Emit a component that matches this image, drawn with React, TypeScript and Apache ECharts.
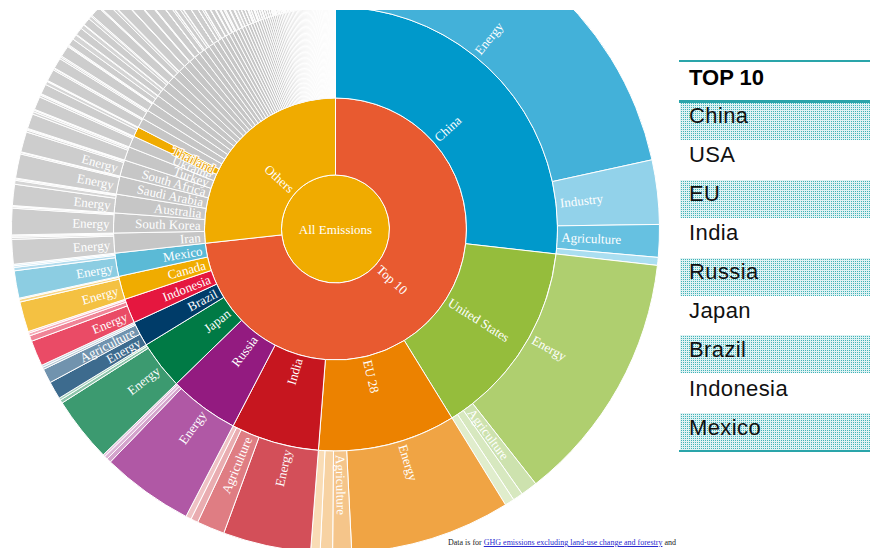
import React, { useEffect, useRef } from "react";
import * as echarts from "echarts";

type Sector = [string, number];

// ---------------- DATA (MtCO2e, clockwise order from 12 o'clock) ----------------
const rootName = "All Emissions";
const groupNames = ["Top 10", "Others"];

const topCountries = ["China", "United States", "EU 28", "India", "Russia", "Japan", "Brazil", "Indonesia", "Canada", "Mexico"];
const china: Sector[] = [["Energy", 9840], ["Industry", 1460], ["Agriculture", 740], ["Waste", 180]];
const unitedStates: Sector[] = [["Energy", 5750], ["Agriculture", 380], ["Industry", 230], ["Waste", 215]];
const eu28: Sector[] = [["Energy", 3645], ["Agriculture", 430], ["Industry", 280], ["Waste", 215]];
const india: Sector[] = [["Energy", 1995], ["Agriculture", 635], ["Industry", 165], ["Waste", 127]];
const russia: Sector[] = [["Energy", 2095], ["Agriculture", 100], ["Industry", 76], ["Waste", 50]];
const japan: Sector[] = [["Energy", 1485], ["Industry", 76], ["Agriculture", 51]];
const brazil: Sector[] = [["Energy", 405], ["Agriculture", 330], ["Industry", 50], ["Waste", 50]];
const indonesia: Sector[] = [["Energy", 585], ["Agriculture", 127], ["Waste", 64], ["Industry", 38]];
const canada: Sector[] = [["Energy", 686], ["Agriculture", 64], ["Industry", 25]];
const mexico: Sector[] = [["Energy", 622], ["Agriculture", 76], ["Industry", 38], ["Waste", 34]];
const topSectors: Sector[][] = [china, unitedStates, eu28, india, russia, japan, brazil, indonesia, canada, mexico];

const otherNamed = ["Iran", "South Korea", "Australia", "Saudi Arabia", "South Africa", "Turkey", "Ukraine", "Thailand"];
const iran: Sector[] = [["Energy", 560], ["Agriculture", 45], ["Industry", 30], ["Waste", 25]];
const southKorea: Sector[] = [["Energy", 600], ["Industry", 35], ["Agriculture", 15], ["Waste", 10]];
const australia: Sector[] = [["Energy", 480], ["Agriculture", 90], ["Industry", 30], ["Waste", 20]];
const saudiArabia: Sector[] = [["Energy", 550], ["Industry", 35], ["Agriculture", 10], ["Waste", 5]];
const southAfrica: Sector[] = [["Energy", 460], ["Agriculture", 45], ["Industry", 25], ["Waste", 15]];
const turkey: Sector[] = [["Energy", 340], ["Agriculture", 55], ["Industry", 40], ["Waste", 20]];
const ukraine: Sector[] = [["Energy", 300], ["Agriculture", 45], ["Industry", 25], ["Waste", 10]];
const thailand: Sector[] = [["Energy", 230], ["Agriculture", 75], ["Industry", 15], ["Waste", 10]];
const otherNamedSectors: Sector[][] = [iran, southKorea, australia, saudiArabia, southAfrica, turkey, ukraine, thailand];

// remaining countries: [name, energy, agriculture, other]
const tailSectorNames = ["Energy", "Agriculture", "Other"];
const tailCountries: [string, number, number, number][] = [
  ["Kazakhstan", 270, 35, 15], ["Egypt", 240, 40, 30], ["Malaysia", 255, 20, 25], ["Pakistan", 160, 115, 15],
  ["Argentina", 170, 95, 15], ["Nigeria", 170, 70, 30], ["Venezuela", 230, 20, 10], ["Vietnam", 170, 65, 15],
  ["United Arab Emirates", 228, 4, 8], ["Algeria", 210, 12, 8], ["Uzbekistan", 190, 18, 7], ["Iraq", 195, 6, 4],
  ["Philippines", 140, 45, 10], ["Colombia", 110, 65, 10], ["Kuwait", 170, 2, 3], ["Qatar", 160, 2, 3],
  ["Bangladesh", 95, 50, 10], ["Turkmenistan", 132, 8, 5], ["Chile", 115, 15, 5], ["Belarus", 95, 28, 5],
  ["Peru", 75, 35, 12], ["Morocco", 92, 18, 6], ["Libya", 105, 3, 2], ["Ethiopia", 15, 85, 5],
  ["Israel", 92, 3, 5], ["Oman", 92, 2, 2], ["Norway", 80, 5, 7], ["Sudan", 30, 55, 3],
  ["Syria", 72, 9, 4], ["Tanzania", 18, 60, 4], ["Azerbaijan", 68, 8, 3], ["Ecuador", 56, 16, 4],
  ["Serbia", 62, 8, 3], ["Singapore", 67, 1, 2], ["Trinidad and Tobago", 65, 1, 2], ["Switzerland", 57, 6, 3],
  ["New Zealand", 28, 34, 2], ["Bolivia", 28, 31, 3], ["DR Congo", 8, 49, 3], ["Sri Lanka", 32, 22, 4],
  ["Angola", 42, 10, 2], ["Bahrain", 50, 1, 1], ["Myanmar", 20, 28, 2], ["Kenya", 18, 28, 3],
  ["Tunisia", 38, 7, 3], ["North Korea", 40, 6, 1], ["Jordan", 38, 3, 5], ["Lebanon", 39, 2, 4],
  ["Cuba", 34, 9, 1], ["Uruguay", 10, 32, 1], ["Dominican Republic", 31, 9, 2], ["Yemen", 33, 6, 2],
  ["Zimbabwe", 18, 20, 2], ["Mongolia", 22, 16, 1], ["Guatemala", 18, 18, 2], ["Bosnia and Herzegovina", 32, 4, 1],
  ["Côte d'Ivoire", 16, 17, 3], ["Ghana", 20, 12, 3], ["Cameroon", 10, 21, 3], ["Paraguay", 7, 25, 1],
  ["Madagascar", 4, 27, 1], ["Zambia", 6, 24, 1], ["Georgia", 22, 7, 1], ["Brunei", 29, 0.5, 0.5],
  ["Mozambique", 9, 19, 1], ["Uganda", 5, 22, 1], ["Kyrgyzstan", 20, 7, 1], ["Afghanistan", 8, 18, 1],
  ["Panama", 18, 7, 1], ["Senegal", 9, 16, 1], ["Nepal", 5, 19, 1], ["Costa Rica", 16, 8, 1],
  ["Honduras", 13, 10, 1], ["Botswana", 14, 9, 1], ["Moldova", 16, 6, 1], ["Armenia", 18, 4, 1],
  ["Chad", 2, 19.5, 0.5], ["Gabon", 16, 5, 1], ["Tajikistan", 12, 8, 1], ["Cambodia", 8, 12, 1],
  ["El Salvador", 13, 6, 1], ["Jamaica", 18, 1.5, 0.5], ["Burkina Faso", 3, 15.5, 0.5], ["Mali", 3, 15.5, 0.5],
  ["Namibia", 8, 9.5, 0.5], ["Albania", 10, 7, 1], ["North Macedonia", 14, 2, 1], ["Congo", 13, 3, 1],
  ["Nicaragua", 6, 9.5, 0.5], ["Benin", 7, 8.5, 0.5], ["Laos", 5, 9.5, 0.5], ["Papua New Guinea", 11, 3.5, 0.5],
  ["Niger", 2, 11.5, 0.5], ["Mauritius", 12, 1.5, 0.5], ["Haiti", 5, 7.5, 0.5], ["Togo", 4, 8.5, 0.5],
  ["Malawi", 2, 9.5, 0.5], ["Rwanda", 2, 9.5, 0.5], ["Guinea", 3, 7.5, 0.5], ["Montenegro", 9, 1.5, 0.5],
  ["Iceland", 6, 3, 1], ["Somalia", 1, 8.5, 0.5], ["Mauritania", 2, 6.5, 0.5], ["Equatorial Guinea", 7, 1.5, 0.5],
  ["Central African Republic", 0.5, 7, 0.5], ["South Sudan", 2, 5.5, 0.5], ["Eritrea", 1, 5.5, 0.5], ["Burundi", 0.5, 6, 0.5],
  ["Sierra Leone", 1, 4.5, 0.5], ["Liberia", 1, 4.5, 0.5], ["Lesotho", 1.5, 3, 0.5], ["Swaziland", 1.5, 3, 0.5],
  ["Guyana", 2.5, 2, 0.5], ["Suriname", 3.5, 1, 0.5], ["Fiji", 2, 1.5, 0.5], ["Bhutan", 1.5, 2, 0.5],
  ["Belize", 2, 1.5, 0.5], ["Djibouti", 2, 1.5, 0.5], ["Gambia", 1, 1.5, 0.5], ["Guinea-Bissau", 0.5, 2, 0.5],
  ["Bahamas", 2.5, 0.2, 0.3], ["Barbados", 2.5, 0.2, 0.3], ["Cape Verde", 1.5, 0.3, 0.2], ["Maldives", 1.5, 0.3, 0.2],
  ["Comoros", 0.5, 1.3, 0.2], ["Solomon Islands", 0.8, 1, 0.2], ["Timor-Leste", 0.4, 0.5, 0.1], ["Vanuatu", 0.3, 0.6, 0.1],
  ["Samoa", 0.3, 0.6, 0.1], ["Seychelles", 0.8, 0.1, 0.1],
];

const legendTitle = "TOP 10";
const legendItems = ["China", "USA", "EU", "India", "Russia", "Japan", "Brazil", "Indonesia", "Mexico"];
const footnotePre = "Data is for ";
const footnoteLink = "GHG emissions excluding land-use change and forestry";
const footnotePost = " and";

// ---------------- STYLE ----------------
const palettes: Record<string, Record<string, string>> = {
  China: { base: "#0099cb", Energy: "#43b1d9", Industry: "#92d2ea", Agriculture: "#66c1e1", Waste: "#aadef0" },
  "United States": { base: "#95bd3c", Energy: "#afcf6f", Agriculture: "#cde2ae", Industry: "#d7e8bf", Waste: "#e0edcc" },
  "EU 28": { base: "#ec8200", Energy: "#f0a444", Agriculture: "#f5c58a", Industry: "#f7d2a2", Waste: "#f9dcb5" },
  India: { base: "#c6161f", Energy: "#d34f59", Agriculture: "#df7d83", Industry: "#e9acb0", Waste: "#efc2c4" },
  Russia: { base: "#931b80", Energy: "#b058a5", Agriculture: "#d3a3cc", Industry: "#dcb4d6", Waste: "#e4c4df" },
  Japan: { base: "#007a45", Energy: "#3c9a70", Industry: "#8cc4aa", Agriculture: "#a4d1bc" },
  Brazil: { base: "#003c69", Energy: "#3d6b8e", Agriculture: "#7193ae", Industry: "#b3c5d3", Waste: "#c6d4df" },
  Indonesia: { base: "#e5173f", Energy: "#ea4b66", Agriculture: "#f08497", Waste: "#f5a9b6", Industry: "#f8c0ca" },
  Canada: { base: "#f0ac00", Energy: "#f4c142", Agriculture: "#f8d789", Industry: "#fae2a6" },
  Mexico: { base: "#5bbad6", Energy: "#8ccde2", Agriculture: "#b2dcee", Industry: "#c2e4f2", Waste: "#d0eaf5" },
};
const greyBase = "#c6c6c6";
const greySectors: Record<string, string> = {
  Energy: "#cdcdcd", Agriculture: "#d5d5d5", Industry: "#dbdbdb", Waste: "#e0e0e0", Other: "#d9d9d9",
};
const labeledSectors: Record<string, string[]> = {
  China: ["Energy", "Industry", "Agriculture"],
  "United States": ["Energy", "Agriculture"],
  "EU 28": ["Energy", "Agriculture"],
  India: ["Energy", "Agriculture"],
  Russia: ["Energy"],
  Japan: ["Energy"],
  Brazil: ["Energy", "Agriculture"],
  Indonesia: ["Energy"],
  Canada: ["Energy"],
  Mexico: ["Energy"],
  Iran: ["Energy"],
  "South Korea": ["Energy"],
  Australia: ["Energy"],
  "Saudi Arabia": ["Energy"],
  "South Africa": ["Energy"],
};

const TEAL = "#2aa5aa";
const SERIF = "'Liberation Serif', 'DejaVu Serif', serif";
const SANS = "'Liberation Sans', Arial, Helvetica, sans-serif";
const DOT_PATTERN =
  "url(\"data:image/svg+xml;utf8,<svg xmlns='http://www.w3.org/2000/svg' width='2' height='2'><rect x='1' y='1' width='1' height='1' fill='%2340b4b8'/></svg>\")";

function buildData() {
  const sectorNodes = (country: string, list: Sector[], colors: Record<string, string>) =>
    list.map(([name, value]) => ({
      name,
      value,
      itemStyle: { color: colors[name] },
      label: { show: (labeledSectors[country] || []).includes(name) },
    }));

  const topChildren = topCountries.map((c, i) => ({
    name: c,
    itemStyle: { color: palettes[c].base },
    children: sectorNodes(c, topSectors[i], palettes[c]),
  }));

  const namedChildren = otherNamed.map((c, i) => ({
    name: c,
    itemStyle: { color: c === "Thailand" ? "#f0ab00" : greyBase },
    label:
      c === "Thailand"
        ? { show: true, color: "#eaa200", textBorderColor: "#ffffff", textBorderWidth: 2 }
        : { show: true },
    children: sectorNodes(c, otherNamedSectors[i], greySectors),
  }));

  const tailChildren = tailCountries.map(([c, e, a, o]) => ({
    name: c,
    itemStyle: { color: greyBase },
    label: { show: false },
    children: [e, a, o].map((v, k) => ({
      name: tailSectorNames[k],
      value: v,
      itemStyle: { color: greySectors[tailSectorNames[k]] },
      label: { show: false },
    })),
  }));

  return [
    {
      name: rootName,
      itemStyle: { color: "#f0ab00" },
      children: [
        { name: groupNames[0], itemStyle: { color: "#e85a30" }, children: topChildren },
        { name: groupNames[1], itemStyle: { color: "#f0ab00" }, children: [...namedChildren, ...tailChildren] },
      ],
    },
  ];
}

export default function App() {
  const ref = useRef<HTMLDivElement>(null);

  useEffect(() => {
    if (!ref.current) return;
    const chart = echarts.init(ref.current, undefined, { renderer: "svg" });
    chart.setOption({
      animation: false,
      backgroundColor: "#ffffff",
      series: [
        {
          type: "sunburst",
          center: [335.5, 229],
          radius: [0, 324],
          sort: null,
          startAngle: 90,
          clockwise: true,
          nodeClick: false,
          emphasis: { focus: "none" },
          itemStyle: { borderColor: "#ffffff", borderWidth: 1 },
          label: {
            rotate: "radial",
            color: "#ffffff",
            fontFamily: SERIF,
            fontSize: 13,
            distance: 4,
          },
          levels: [
            {},
            { r0: 0, r: 54, label: { rotate: 0, align: "center" } },
            { r0: 54, r: 131, label: { align: "left" } },
            { r0: 131, r: 222, label: { align: "left" } },
            { r0: 222, r: 324, label: { align: "left" } },
          ],
          data: buildData(),
        },
      ],
    });
    return () => chart.dispose();
  }, []);

  const rowH = 38.9;
  const dotted: React.CSSProperties = {
    backgroundColor: "#dff2f3",
    backgroundImage: DOT_PATTERN,
    backgroundSize: "2px 2px",
    backgroundRepeat: "repeat",
  };

  return (
    <div style={{ position: "absolute", left: 0, top: 0, width: 870, height: 548, overflow: "hidden", background: "#fff" }}>
      <div ref={ref} style={{ position: "absolute", left: 0, top: 0, width: 870, height: 548 }} />
      <div style={{ position: "absolute", left: 0, top: 0, width: 870, height: 10, background: "#fff" }} />

      {/* legend */}
      <div style={{ position: "absolute", left: 679, top: 60, width: 191, height: 2, background: TEAL }} />
      <div
        style={{
          position: "absolute", left: 689, top: 67, fontFamily: SANS, fontWeight: "bold", fontSize: 22,
          lineHeight: "22px", color: "#000", whiteSpace: "nowrap",
        }}
      >
        {legendTitle}
      </div>
      {legendItems.map((name, i) => (
        <React.Fragment key={name}>
          {i % 2 === 0 && (
            <div
              style={{
                position: "absolute", left: 680, top: Math.round(102 + rowH * i), width: 190, height: 38, ...dotted,
              }}
            />
          )}
          <div
            style={{
              position: "absolute", left: 689, top: Math.round(124 + rowH * i - 18.6), fontFamily: SANS, fontSize: 22,
              lineHeight: "22px", color: "#111", whiteSpace: "nowrap", letterSpacing: 0.4,
            }}
          >
            {name}
          </div>
        </React.Fragment>
      ))}
      <div style={{ position: "absolute", left: 679, top: 100, width: 191, height: 2.5, background: TEAL }} />
      <div style={{ position: "absolute", left: 679, top: 449.5, width: 191, height: 2.5, background: TEAL }} />

      {/* footnote */}
      <div
        style={{
          position: "absolute", left: 448, top: 538, fontFamily: SERIF, fontSize: 8, lineHeight: "9px",
          color: "#222", whiteSpace: "nowrap",
        }}
      >
        {footnotePre}
        <span style={{ color: "#2a2ad0", textDecoration: "underline" }}>{footnoteLink}</span>
        {footnotePost}
      </div>
    </div>
  );
}
